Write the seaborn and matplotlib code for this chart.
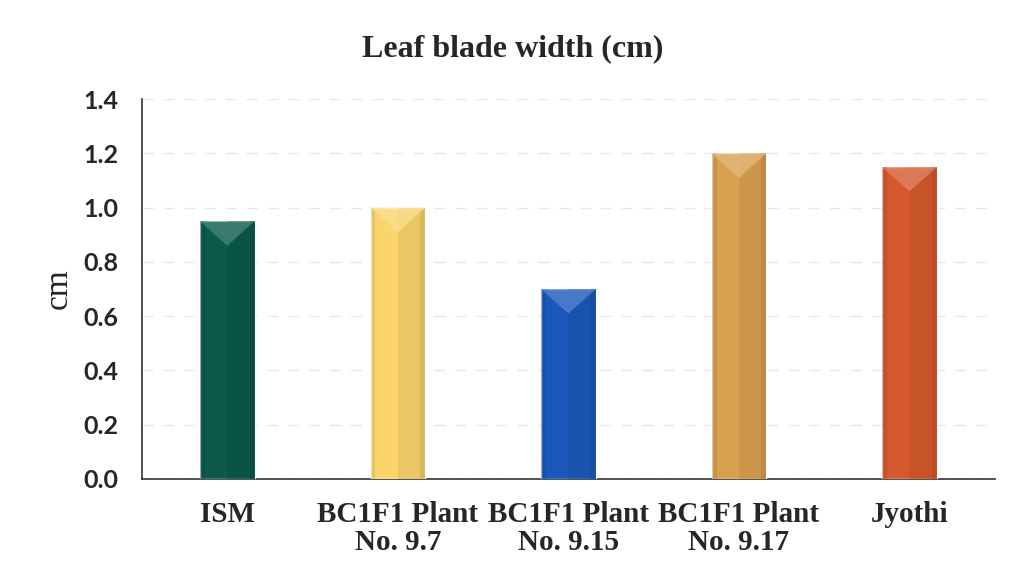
import matplotlib
matplotlib.use("Agg")
import matplotlib.pyplot as plt
import matplotlib.colors as mcolors
from matplotlib.patches import Polygon, Rectangle
import seaborn as sns
import pandas as pd

# Leaf blade width per genotype
categories = ["ISM", "BC1F1 Plant\nNo. 9.7", "BC1F1 Plant\nNo. 9.15",
              "BC1F1 Plant\nNo. 9.17", "Jyothi"]
widths_cm = [0.95, 1.00, 0.70, 1.20, 1.15]
bar_colors = ["#0b5a4b", "#fbd46c", "#1b58bb", "#d9a04f", "#d5592c"]
y_ticks = [0.0, 0.2, 0.4, 0.6, 0.8, 1.0, 1.2, 1.4]

df = pd.DataFrame({"genotype": categories, "width": widths_cm})

sns.set_theme(style="white")
plt.rcParams["font.family"] = ["Liberation Serif", "DejaVu Serif"]

fig = plt.figure(figsize=(10.25, 5.77), dpi=100)
ax = fig.add_axes([0.1385, 0.170, 0.832, 0.658])

sns.barplot(data=df, x="genotype", y="width", hue="genotype",
            palette=bar_colors, width=0.32, legend=False, ax=ax,
            saturation=1, zorder=3)

# Bevelled look: shaded right half, darker side strips, lighter chevron on top
for patch, col in zip(ax.patches, bar_colors):
    x0, y0 = patch.get_x(), patch.get_y()
    w, h = patch.get_width(), patch.get_height()
    rgb = mcolors.to_rgb(col)
    dark = tuple(c * 0.82 for c in rgb)
    light = tuple(min(1, c + (1 - c) * 0.25) for c in rgb)
    ax.add_patch(Rectangle((x0 + w / 2, y0), w / 2, h, color=dark, lw=0,
                           zorder=4, alpha=0.35))
    edge = w * 0.09
    ax.add_patch(Rectangle((x0, y0), edge, h, color=dark, lw=0, zorder=4, alpha=0.45))
    ax.add_patch(Rectangle((x0 + w - edge, y0), edge, h, color=dark, lw=0, zorder=4, alpha=0.6))
    depth = min(0.09, h)
    ax.add_patch(Polygon([(x0, y0 + h), (x0 + w, y0 + h), (x0 + w / 2, y0 + h - depth)],
                         closed=True, color=light, lw=0, zorder=5, alpha=0.8))

ax.set_ylim(0, 1.4)
ax.set_yticks(y_ticks)
ax.set_yticklabels([f"{v:.1f}" for v in y_ticks], fontsize=18,
                   fontweight="bold", family=["Lato", "DejaVu Sans"])
ax.set_xticks(range(len(categories)))
ax.set_xticklabels(categories, fontsize=21, fontweight="bold",
                   linespacing=1.06)
ax.set_xlim(-0.5, len(categories) - 0.5)

ax.yaxis.grid(True, color="#e8e8e8", linestyle=(0, (8, 7)), linewidth=1.0, zorder=0)
ax.set_axisbelow(True)

for side in ["top", "right"]:
    ax.spines[side].set_visible(False)
for side in ["left", "bottom"]:
    ax.spines[side].set_color("#333333")
    ax.spines[side].set_linewidth(1.2)

ax.tick_params(axis="y", length=0, pad=17)
ax.tick_params(axis="x", length=0, pad=16)

ax.set_xlabel("")
ax.set_ylabel("cm", fontsize=24, labelpad=7)
fig.suptitle("Leaf blade width (cm)", fontsize=23, fontweight="bold", y=0.94)

fig.savefig("out.png", dpi=100, facecolor="white")
